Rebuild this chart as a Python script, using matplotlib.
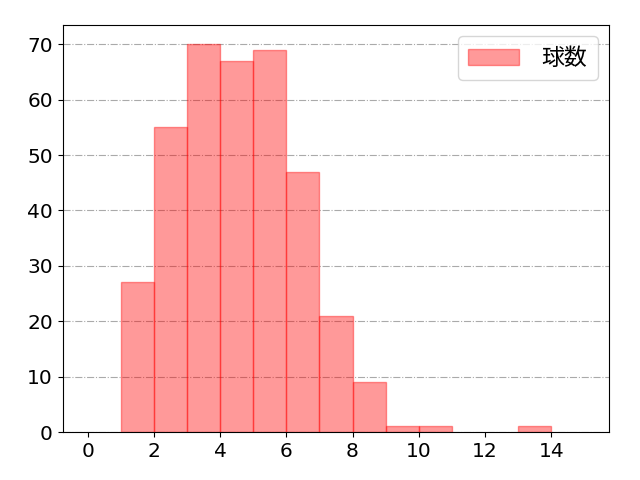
import numpy as np
import matplotlib
matplotlib.use('Agg')
import matplotlib.pyplot as plt

plt.rcParams['font.family'] = ['DejaVu Sans', 'Noto Sans CJK JP']

# ビンの左端と度数
bin_left = [0, 1, 2, 3, 4, 5, 6, 7, 8, 9, 10, 11, 12, 13, 14]
counts = [0, 27, 55, 70, 67, 69, 47, 21, 9, 1, 1, 0, 0, 1, 0]
label = '球数'

left = [b for b, c in zip(bin_left, counts) if c > 0]
height = [c for c in counts if c > 0]

fig, ax = plt.subplots(figsize=(6.4, 4.8), dpi=100)
ax.bar(left, height, width=1.0, align='edge', color='red', alpha=0.4,
       edgecolor='red', linewidth=1.0, label=label, zorder=2)
ax.set_xlim(-0.75, 15.75)
ax.set_ylim(0, 73.5)
ax.set_xticks(np.arange(0, 15, 2))
ax.grid(axis='y', color='#aaaaaa', linestyle='-.', linewidth=0.8, zorder=0)
ax.tick_params(labelsize=14.5)
ax.legend(loc='upper right', prop={'family': ['Noto Sans CJK JP'], 'size': 16.5},
          handlelength=2.2, handleheight=0.7, handletextpad=1.0, borderpad=0.45)
fig.subplots_adjust(left=0.098, right=0.952, top=0.948, bottom=0.1)
fig.savefig('out.png')
